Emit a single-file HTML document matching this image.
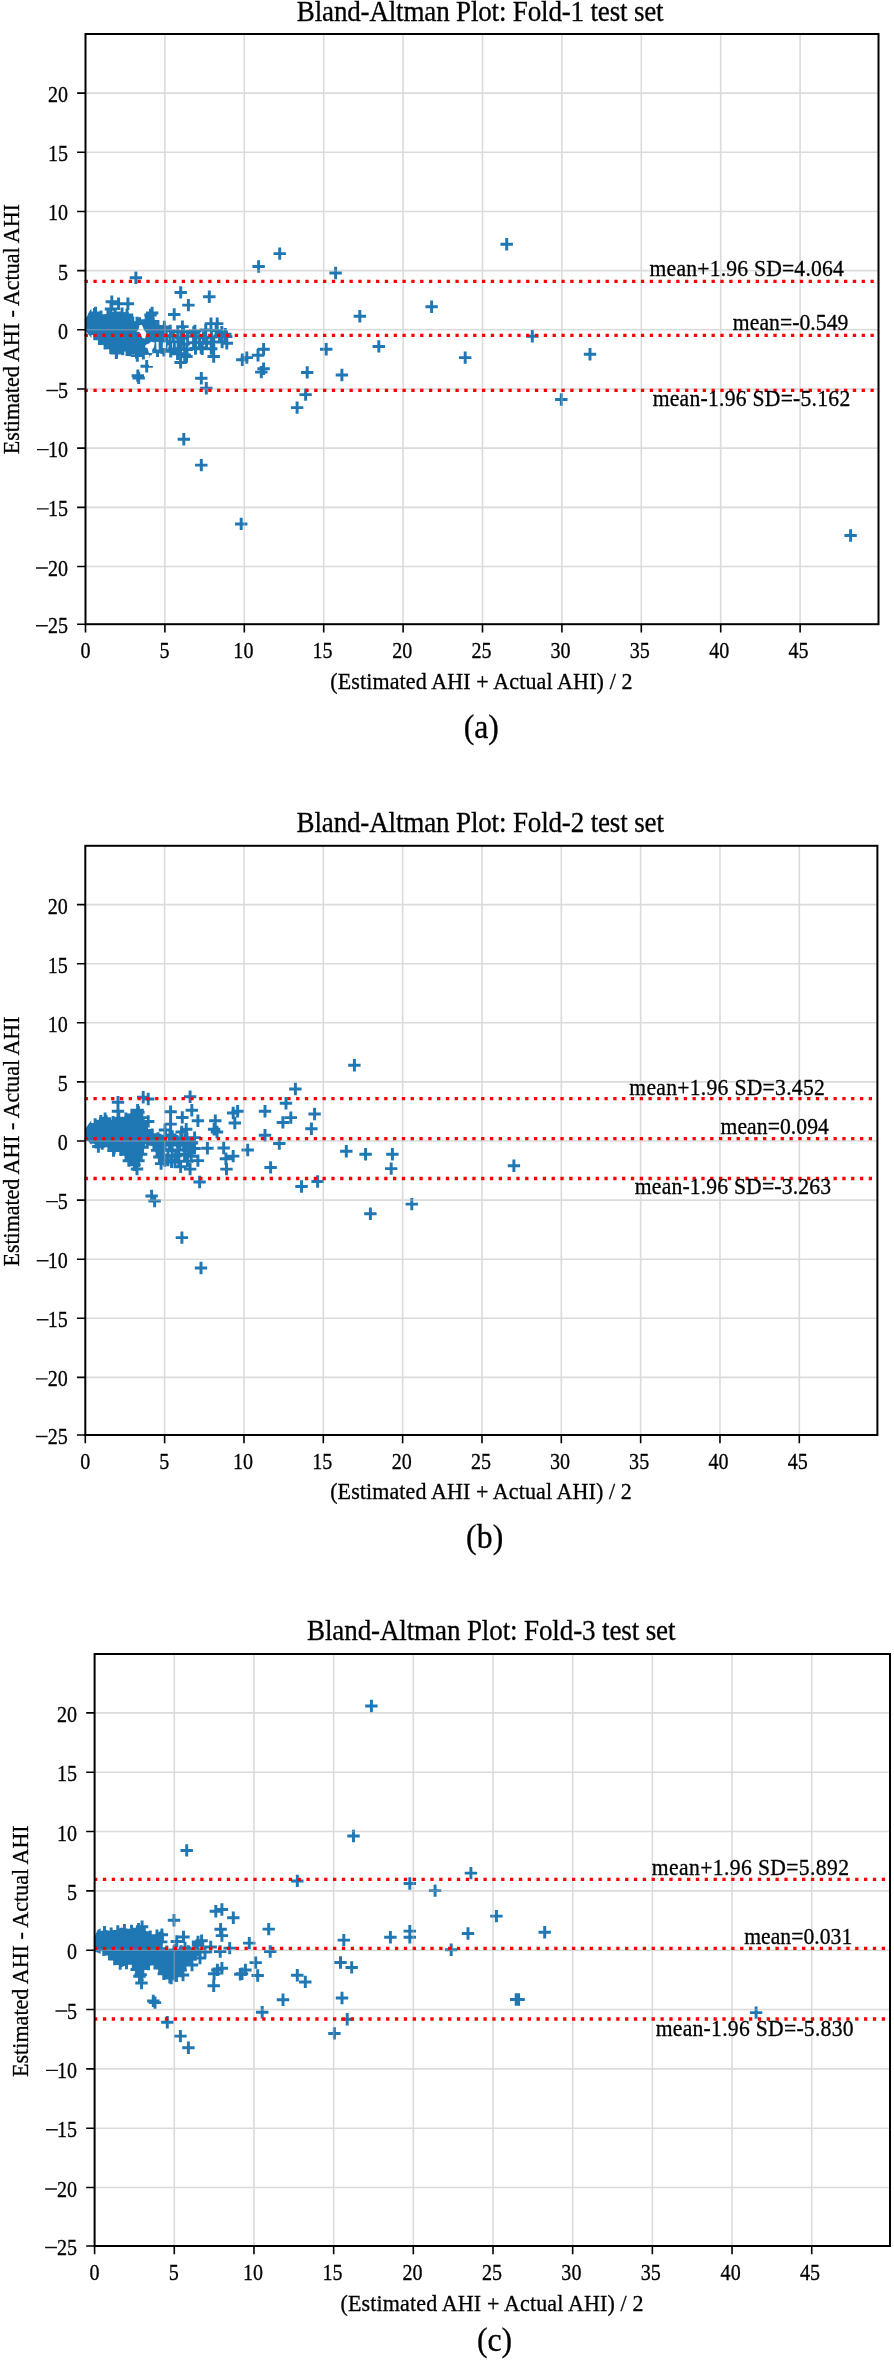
<!DOCTYPE html><html><head><meta charset="utf-8"><title>Bland-Altman plots</title><style>html,body{margin:0;padding:0;background:#fff;overflow:hidden;}svg{display:block;}text{font-family:"Liberation Serif",serif;fill:#000;stroke:#000;stroke-width:0.3px;}svg{will-change:transform;}</style></head><body>
<svg width="894" height="2360" viewBox="0 0 894 2360">
<rect width="894" height="2360" fill="#fff"/>
<g>
<polygon points="96.45,339.06 103.28,344.56 112.13,351.54 117.21,354.76 123.81,350.64 132.73,352.9 139.19,356.13 146.91,354.57 156.69,352.61 162.69,354.13 166.74,350.27 168.46,339.96 166.81,328.41 164,327.16 155.4,322.8 153.44,315.09 150.77,312.42 148.42,314.02 144.53,319.75 136.63,322.38 130.99,319.56 125.9,312.74 121.51,311.5 115.44,311.5 109.29,313.06 102.63,315.28 95.44,311.68 92.88,312.56 91.5,315.27 91.5,309.33 90.4,309.7 86.8,316.8 85.5,317 85.5,331 88,333.5 91.5,338.25 91.5,332.35" fill="#1f77b4"/>
<path d="M129.7 277.75h12.4M135.9 271.55v12.4M174.5 292.4h12.4M180.7 286.2v12.4M203.1 296.8h12.4M209.3 290.6v12.4M182.2 305.1h12.4M188.4 298.9v12.4M168 314.4h12.4M174.2 308.2v12.4M252.4 266.5h12.4M258.6 260.3v12.4M273.5 253.6h12.4M279.7 247.4v12.4M329.4 273h12.4M335.6 266.8v12.4M353.6 316.2h12.4M359.8 310v12.4M372.6 346.4h12.4M378.8 340.2v12.4M320 349.3h12.4M326.2 343.1v12.4M301 372.4h12.4M307.2 366.2v12.4M335.7 375h12.4M341.9 368.8v12.4M257.4 349.3h12.4M263.6 343.1v12.4M251.8 355.3h12.4M258 349.1v12.4M240.6 357.6h12.4M246.8 351.4v12.4M236.1 359.8h12.4M242.3 353.6v12.4M257.4 368.8h12.4M263.6 362.6v12.4M255.1 372.1h12.4M261.3 365.9v12.4M500.5 244.3h12.4M506.7 238.1v12.4M425.4 306.8h12.4M431.6 300.6v12.4M526.1 336.3h12.4M532.3 330.1v12.4M459 357.6h12.4M465.2 351.4v12.4M583.8 354.2h12.4M590 348v12.4M555.1 399.5h12.4M561.3 393.3v12.4M844.4 535.5h12.4M850.6 529.3v12.4M299.4 394.6h12.4M305.6 388.4v12.4M290.9 407.6h12.4M297.1 401.4v12.4M235 523.9h12.4M241.2 517.7v12.4M140.5 366.3h12.4M146.7 360.1v12.4M131.6 375.7h12.4M137.8 369.5v12.4M132.5 377.9h12.4M138.7 371.7v12.4M195.1 378.3h12.4M201.3 372.1v12.4M200.1 388.3h12.4M206.3 382.1v12.4M177.6 439.3h12.4M183.8 433.1v12.4M195.1 465.1h12.4M201.3 458.9v12.4M105.6 301.8h12.4M111.8 295.6v12.4M112.4 303.7h12.4M118.6 297.5v12.4M121.7 303.7h12.4M127.9 297.5v12.4M89.4 313h12.4M95.6 306.8v12.4M145.9 313h12.4M152.1 306.8v12.4M130.8 323h12.4M137 316.8v12.4M104.8 309h12.4M111 302.8v12.4M120.8 315h12.4M127 308.8v12.4M158.1 327h12.4M164.3 320.8v12.4M176.2 326.6h12.4M182.4 320.4v12.4M188.7 331h12.4M194.9 324.8v12.4M204.8 323.6h12.4M211 317.4v12.4M211 323.6h12.4M217.2 317.4v12.4M219.1 334.3h12.4M225.3 328.1v12.4M220.6 343.3h12.4M226.8 337.1v12.4M195 347.8h12.4M201.2 341.6v12.4M207.5 356.5h12.4M213.7 350.3v12.4M174.4 362.4h12.4M180.6 356.2v12.4M164.5 351.2h12.4M170.7 345v12.4M110.1 352.9h12.4M116.3 346.7v12.4M131.1 355.6h12.4M137.3 349.4v12.4M120.8 349.8h12.4M127 343.6v12.4M180.3 356.5h12.4M186.5 350.3v12.4M84.8 320.34h12.4M91 314.14v12.4M84.8 327.55h12.4M91 321.35v12.4M88.58 333.42h12.4M94.78 327.22v12.4M93.22 338.88h12.4M99.42 332.68v12.4M98.84 343.4h12.4M105.04 337.2v12.4M104.5 347.87h12.4M110.7 341.67v12.4M110.4 352.01h12.4M116.6 345.81v12.4M116.6 349.15h12.4M122.8 342.95v12.4M123.64 350.11h12.4M129.84 343.91v12.4M130.37 352.59h12.4M136.57 346.39v12.4M137.16 353.25h12.4M143.36 347.05v12.4M144.23 351.82h12.4M150.43 345.62v12.4M151.33 350.78h12.4M157.53 344.58v12.4M157.72 350.2h12.4M163.92 344v12.4M159.64 343.48h12.4M165.84 337.28v12.4M159.72 336.35h12.4M165.92 330.15v12.4M158.25 329.55h12.4M164.45 323.35v12.4M151.79 326.36h12.4M157.99 320.16v12.4M146.82 321.57h12.4M153.02 315.37v12.4M144.31 315.02h12.4M150.51 308.82v12.4M139.97 320.71h12.4M146.17 314.51v12.4M133.39 323.5h12.4M139.59 317.3v12.4M126.55 322.67h12.4M132.75 316.47v12.4M121.19 318.07h12.4M127.39 311.87v12.4M115.88 313.74h12.4M122.08 307.54v12.4M108.72 313.69h12.4M114.92 307.49v12.4M101.77 315.61h12.4M107.97 309.41v12.4M94.81 316.66h12.4M101.01 310.46v12.4M88.3 314.12h12.4M94.5 307.92v12.4M164.07 330.87h12.4M170.27 324.67v12.4M171.61 331.49h12.4M177.81 325.29v12.4M177.45 331.8h12.4M183.65 325.6v12.4M187.5 332.41h12.4M193.7 326.21v12.4M199.56 329.9h12.4M205.76 323.7v12.4M209.87 330.41h12.4M216.07 324.21v12.4M215.65 332.19h12.4M221.85 325.99v12.4M167.11 335.69h12.4M173.31 329.49v12.4M175.05 338.03h12.4M181.25 331.83v12.4M181.27 336.17h12.4M187.47 329.97v12.4M189.54 335.61h12.4M195.74 329.41v12.4M197.29 337.95h12.4M203.49 331.75v12.4M205.27 337.1h12.4M211.47 330.9v12.4M213.37 335.95h12.4M219.57 329.75v12.4M220 336.62h12.4M226.2 330.42v12.4M163.85 341.84h12.4M170.05 335.64v12.4M171.88 341.79h12.4M178.08 335.59v12.4M177.55 343.92h12.4M183.75 337.72v12.4M187.39 342.8h12.4M193.59 336.6v12.4M193.29 342.24h12.4M199.49 336.04v12.4M200.37 343.35h12.4M206.57 337.15v12.4M207.59 341.86h12.4M213.79 335.66v12.4M215.92 341.99h12.4M222.12 335.79v12.4M168.13 348.94h12.4M174.33 342.74v12.4M174.34 348.8h12.4M180.54 342.6v12.4M180.82 349.64h12.4M187.02 343.44v12.4M189.29 348.46h12.4M195.49 342.26v12.4M196.04 348.84h12.4M202.24 342.64v12.4M205.05 348.67h12.4M211.25 342.47v12.4M171.36 353.69h12.4M177.56 347.49v12.4M178.52 354.88h12.4M184.72 348.68v12.4" stroke="#1f77b4" stroke-width="2.95" fill="none"/>
<polygon points="139.5,325 142,325 144,330 146.5,333 145,338.5 142.5,338 139.5,332 136.5,331.5 138.5,329.5" fill="#fff"/>
<polygon points="145.5,345 149,343.5 151,341.8 154.7,342.5 154,347 152,350 152.5,353 149,353 147.5,348 145.2,347.5" fill="#fff"/>
<polygon points="156.2,342 158.5,341.8 158.8,349.6 156.5,349.6" fill="#fff"/>
<polygon points="162.8,342.4 166,342.4 166,348 162.8,348" fill="#fff"/>
<polygon points="149.5,355.5 155.8,355 156,366 149,366" fill="#fff"/>
<path d="M164.9 34V624.2M244.3 34V624.2M323.7 34V624.2M403.1 34V624.2M482.5 34V624.2M561.9 34V624.2M641.3 34V624.2M720.7 34V624.2M800.1 34V624.2M85.5 566.5H878.5M85.5 507.33H878.5M85.5 448.15H878.5M85.5 388.98H878.5M85.5 329.8H878.5M85.5 270.62H878.5M85.5 211.45H878.5M85.5 152.28H878.5M85.5 93.1H878.5" stroke="#b0b0b0" stroke-opacity="0.45" stroke-width="1.6" fill="none"/>
<line x1="84.6" y1="281.3" x2="878.5" y2="281.3" stroke="#ff0000" stroke-width="3.3" stroke-dasharray="3.3 5.53"/>
<line x1="84.6" y1="335.3" x2="878.5" y2="335.3" stroke="#ff0000" stroke-width="3.3" stroke-dasharray="3.3 5.53"/>
<line x1="84.6" y1="390.3" x2="878.5" y2="390.3" stroke="#ff0000" stroke-width="3.3" stroke-dasharray="3.3 5.53"/>
<rect x="85.5" y="34" width="793" height="590.2" fill="none" stroke="#000" stroke-width="2.0"/>
<path d="M85.5 624.2v8.3M164.9 624.2v8.3M244.3 624.2v8.3M323.7 624.2v8.3M403.1 624.2v8.3M482.5 624.2v8.3M561.9 624.2v8.3M641.3 624.2v8.3M720.7 624.2v8.3M800.1 624.2v8.3M85.5 624.2h-8.4M85.5 566.5h-8.4M85.5 507.33h-8.4M85.5 448.15h-8.4M85.5 388.98h-8.4M85.5 329.8h-8.4M85.5 270.62h-8.4M85.5 211.45h-8.4M85.5 152.28h-8.4M85.5 93.1h-8.4" stroke="#000" stroke-width="1.6" fill="none"/>
<text transform="translate(80.48 658.2) scale(0.88 1)" font-size="22.8" letter-spacing="-0.000">0</text>
<text transform="translate(159.48 658.2) scale(0.88 1)" font-size="22.8" letter-spacing="0.000">5</text>
<text transform="translate(233.37 658.2) scale(0.88 1)" font-size="22.8" letter-spacing="-0.000">10</text>
<text transform="translate(312.57 658.2) scale(0.88 1)" font-size="22.8" letter-spacing="0.000">15</text>
<text transform="translate(392.22 658.2) scale(0.88 1)" font-size="22.8" letter-spacing="0.000">20</text>
<text transform="translate(471.42 658.2) scale(0.88 1)" font-size="22.8" letter-spacing="0.000">25</text>
<text transform="translate(550.57 658.2) scale(0.88 1)" font-size="22.8" letter-spacing="-0.000">30</text>
<text transform="translate(629.77 658.2) scale(0.88 1)" font-size="22.8" letter-spacing="-0.000">35</text>
<text transform="translate(709.27 658.2) scale(0.88 1)" font-size="22.8" letter-spacing="-0.000">40</text>
<text transform="translate(788.47 658.2) scale(0.88 1)" font-size="22.8" letter-spacing="-0.000">45</text>
<text transform="translate(47.89 633.2) scale(0.88 1)" font-size="22.8" letter-spacing="0.000">25</text>
<text transform="translate(47.89 575.5) scale(0.88 1)" font-size="22.8" letter-spacing="0.000">20</text>
<text transform="translate(47.89 516.33) scale(0.88 1)" font-size="22.8" letter-spacing="-0.000">15</text>
<text transform="translate(47.89 457.15) scale(0.88 1)" font-size="22.8" letter-spacing="-0.000">10</text>
<text transform="translate(57.92 397.98) scale(0.88 1)" font-size="22.8" letter-spacing="-0.000">5</text>
<text transform="translate(57.92 338.8) scale(0.88 1)" font-size="22.8" letter-spacing="0.000">0</text>
<text transform="translate(57.92 279.62) scale(0.88 1)" font-size="22.8" letter-spacing="-0.000">5</text>
<text transform="translate(47.89 220.45) scale(0.88 1)" font-size="22.8" letter-spacing="-0.000">10</text>
<text transform="translate(47.89 161.28) scale(0.88 1)" font-size="22.8" letter-spacing="-0.000">15</text>
<text transform="translate(47.89 102.1) scale(0.88 1)" font-size="22.8" letter-spacing="0.000">20</text>
<path d="M36.04 625.7h11.8M36.04 568h11.8M36.94 508.83h11.8M36.94 449.65h11.8M46.37 390.48h11.8" stroke="#111" stroke-width="1.4" fill="none"/>
<text transform="translate(296.86 20.5) scale(0.95 1)" font-size="28.5" letter-spacing="-0.193">Bland-Altman Plot: Fold-1 test set</text>
<text transform="translate(330.26 688.5) scale(0.95 1)" font-size="23.2" letter-spacing="0.123">(Estimated AHI + Actual AHI) / 2</text>
<text transform="translate(19.1 453.6) rotate(-90) scale(0.95 1) translate(-0.64 0)" font-size="23.2" letter-spacing="-0.028">Estimated AHI - Actual AHI</text>
<text transform="translate(649.57 275.8) scale(0.95 1)" font-size="22.8" letter-spacing="0.208">mean+1.96 SD=4.064</text>
<text transform="translate(732.87 330) scale(0.95 1)" font-size="22.8" letter-spacing="0.056">mean=-0.549</text>
<text transform="translate(652.67 405.8) scale(0.95 1)" font-size="22.8" letter-spacing="0.258">mean-1.96 SD=-5.162</text>
<text transform="translate(463.65 737.7) scale(0.95 1)" font-size="33.5" letter-spacing="-0.063">(a)</text>
</g>
<g>
<polygon points="95.8,1145.17 97.28,1146.86 98.85,1144.77 108.94,1147.66 111.06,1151.89 111.5,1152.21 114.74,1149.06 123.59,1153.48 126.5,1161.16 130.08,1164.73 135.54,1167.51 136.49,1168.67 137.94,1166.3 142.66,1156.85 145.35,1143.43 153.86,1146.26 156.31,1154.86 159.58,1162.93 160.67,1164.02 160.75,1163.9 163.46,1159.14 162.52,1135.63 162.21,1134.67 157.95,1137.5 152.57,1132.12 146.42,1128.02 143.52,1118.6 143.28,1113.26 138.47,1109.45 138.29,1109.34 137.58,1110.76 131.27,1112.87 125.48,1116.8 115.5,1116.8 114.13,1120.78 104.55,1119.04 103.95,1116.62 102.96,1117.2 101.31,1117.2 99.51,1120.3 95.75,1120.3 94.1,1122.5 91.44,1126.04 91.3,1126.25 91.3,1120.4 88.6,1124 85.5,1128.5 85.5,1139.8 88.6,1141.6 91.3,1145.08 91.3,1139.37" fill="#1f77b4"/>
<path d="M111.8 1102.3h12.4M118 1096.1v12.4M111.8 1111.3h12.4M118 1105.1v12.4M137 1097.3h12.4M143.2 1091.1v12.4M142 1099h12.4M148.2 1092.8v12.4M131.4 1110.2h12.4M137.6 1104v12.4M142 1121.4h12.4M148.2 1115.2v12.4M164.4 1111.8h12.4M170.6 1105.6v12.4M164.4 1124.1h12.4M170.6 1117.9v12.4M176.1 1117.4h12.4M182.3 1111.2v12.4M92.2 1146.5h12.4M98.4 1140.3v12.4M145.4 1195.9h12.4M151.6 1189.7v12.4M148.4 1201h12.4M154.6 1194.8v12.4M183.9 1096.7h12.4M190.1 1090.5v12.4M185.6 1110.2h12.4M191.8 1104v12.4M191.7 1120.8h12.4M197.9 1114.6v12.4M209.1 1120.8h12.4M215.3 1114.6v12.4M207.9 1129.2h12.4M214.1 1123v12.4M210.8 1132h12.4M217 1125.8v12.4M227 1113h12.4M233.2 1106.8v12.4M231.4 1111.3h12.4M237.6 1105.1v12.4M228.6 1123h12.4M234.8 1116.8v12.4M258.8 1111.3h12.4M265 1105.1v12.4M258.8 1135.3h12.4M265 1129.1v12.4M180 1129.2h12.4M186.2 1123v12.4M175.5 1132h12.4M181.7 1125.8v12.4M188.4 1137.6h12.4M194.6 1131.4v12.4M201.2 1148.3h12.4M207.4 1142.1v12.4M217.5 1148h12.4M223.7 1141.8v12.4M227 1156.1h12.4M233.2 1149.9v12.4M219.7 1158.8h12.4M225.9 1152.6v12.4M220.3 1169.1h12.4M226.5 1162.9v12.4M241.5 1150h12.4M247.7 1143.8v12.4M191.7 1160.6h12.4M197.9 1154.4v12.4M182.2 1147.6h12.4M188.4 1141.4v12.4M264.4 1167.4h12.4M270.6 1161.2v12.4M193.4 1182h12.4M199.6 1175.8v12.4M183.9 1169.1h12.4M190.1 1162.9v12.4M174.4 1166.8h12.4M180.6 1160.6v12.4M188.4 1148.4h12.4M194.6 1142.2v12.4M289.2 1089h12.4M295.4 1082.8v12.4M279.8 1103.3h12.4M286 1097.1v12.4M284.6 1117.6h12.4M290.8 1111.4v12.4M276.7 1122.4h12.4M282.9 1116.2v12.4M308.4 1114h12.4M314.6 1107.8v12.4M305.2 1128.7h12.4M311.4 1122.5v12.4M273.1 1143.5h12.4M279.3 1137.3v12.4M295.3 1186.5h12.4M301.5 1180.3v12.4M311.4 1181.5h12.4M317.6 1175.3v12.4M340.1 1151.2h12.4M346.3 1145v12.4M359.4 1154.3h12.4M365.6 1148.1v12.4M386.2 1154.3h12.4M392.4 1148.1v12.4M385 1168.6h12.4M391.2 1162.4v12.4M405.6 1204.1h12.4M411.8 1197.9v12.4M507.7 1165.8h12.4M513.9 1159.6v12.4M348.2 1065.2h12.4M354.4 1059v12.4M175.7 1237.6h12.4M181.9 1231.4v12.4M194.8 1268h12.4M201 1261.8v12.4M364.2 1213.8h12.4M370.4 1207.6v12.4M98.9 1118.6h12.4M105.1 1112.4v12.4M154.9 1163.6h12.4M161.1 1157.4v12.4M130.8 1169h12.4M137 1162.8v12.4M107.3 1150.6h12.4M113.5 1144.4v12.4M158.8 1130h12.4M165 1123.8v12.4M163.8 1135h12.4M170 1128.8v12.4M168.8 1140h12.4M175 1133.8v12.4M173.8 1145h12.4M180 1138.8v12.4M158.8 1145h12.4M165 1138.8v12.4M165.8 1150h12.4M172 1143.8v12.4M178.8 1140h12.4M185 1133.8v12.4M171.8 1155h12.4M178 1148.8v12.4M161.8 1160h12.4M168 1153.8v12.4M178.8 1155h12.4M185 1148.8v12.4M185.8 1143h12.4M192 1136.8v12.4M153.8 1140h12.4M160 1133.8v12.4M168.8 1162h12.4M175 1155.8v12.4M155.8 1155h12.4M162 1148.8v12.4M84.8 1130.21h12.4M91 1124.01v12.4M85.36 1136.97h12.4M91.56 1130.77v12.4M89.93 1142.34h12.4M96.13 1136.14v12.4M96.02 1143.66h12.4M102.22 1137.46v12.4M102.8 1145.7h12.4M109 1139.5v12.4M107.94 1147.95h12.4M114.14 1141.75v12.4M114.57 1149.84h12.4M120.77 1143.64v12.4M119.82 1154.24h12.4M126.02 1148.04v12.4M122.64 1160.66h12.4M128.84 1154.46v12.4M128.32 1164.75h12.4M134.52 1158.55v12.4M132.26 1160.78h12.4M138.46 1154.58v12.4M134.94 1154.27h12.4M141.14 1148.07v12.4M136.32 1147.33h12.4M142.52 1141.13v12.4M140.92 1142.58h12.4M147.12 1136.38v12.4M147.68 1144.32h12.4M153.88 1138.12v12.4M150.91 1150.38h12.4M157.11 1144.18v12.4M153.17 1157.08h12.4M159.37 1150.88v12.4M155.16 1156.56h12.4M161.36 1150.36v12.4M154.87 1149.48h12.4M161.07 1143.28v12.4M154.59 1142.41h12.4M160.79 1136.21v12.4M151.79 1138.48h12.4M157.99 1132.28v12.4M146.06 1134.64h12.4M152.26 1128.44v12.4M140.34 1130.51h12.4M146.54 1124.31v12.4M137.04 1124.47h12.4M143.24 1118.27v12.4M135.28 1117.64h12.4M141.48 1111.44v12.4M132.22 1112.28h12.4M138.42 1106.08v12.4M125.67 1114.87h12.4M131.87 1108.67v12.4M119.68 1118.59h12.4M125.88 1112.39v12.4M112.62 1118.8h12.4M118.82 1112.6v12.4M106.99 1122.11h12.4M113.19 1115.91v12.4M100.01 1121.36h12.4M106.21 1115.16v12.4M94.67 1121.14h12.4M100.87 1114.94v12.4M88.93 1124.46h12.4M95.13 1118.26v12.4M159.29 1136.26h12.4M165.49 1130.06v12.4M166.05 1136.45h12.4M172.25 1130.25v12.4M174.59 1138.34h12.4M180.79 1132.14v12.4M180.75 1138.5h12.4M186.95 1132.3v12.4M155.93 1141.95h12.4M162.13 1135.75v12.4M162.92 1143.18h12.4M169.12 1136.98v12.4M171.17 1142.13h12.4M177.37 1135.93v12.4M177.42 1144.15h12.4M183.62 1137.95v12.4M185.22 1142.43h12.4M191.42 1136.23v12.4M157.3 1150.32h12.4M163.5 1144.12v12.4M165.97 1150.49h12.4M172.17 1144.29v12.4M172.47 1149.94h12.4M178.67 1143.74v12.4M181.99 1150.26h12.4M188.19 1144.06v12.4M187.1 1148.62h12.4M193.3 1142.42v12.4M161.86 1156.38h12.4M168.06 1150.18v12.4M169.42 1155.82h12.4M175.62 1149.62v12.4M178.4 1154.22h12.4M184.6 1148.02v12.4M184.97 1156.37h12.4M191.17 1150.17v12.4M158.63 1160.58h12.4M164.83 1154.38v12.4M165.35 1161.86h12.4M171.55 1155.66v12.4M172.63 1161.31h12.4M178.83 1155.11v12.4M181.22 1161.16h12.4M187.42 1154.96v12.4" stroke="#1f77b4" stroke-width="2.95" fill="none"/>
<path d="M164.63 845.8V1435M243.97 845.8V1435M323.31 845.8V1435M402.64 845.8V1435M481.98 845.8V1435M561.31 845.8V1435M640.64 845.8V1435M719.98 845.8V1435M799.31 845.8V1435M85.3 1377.4H877.4M85.3 1318.3H877.4M85.3 1259.2H877.4M85.3 1200.1H877.4M85.3 1141H877.4M85.3 1081.9H877.4M85.3 1022.8H877.4M85.3 963.7H877.4M85.3 904.6H877.4" stroke="#b0b0b0" stroke-opacity="0.45" stroke-width="1.6" fill="none"/>
<line x1="84.65" y1="1098.7" x2="877.4" y2="1098.7" stroke="#ff0000" stroke-width="3.3" stroke-dasharray="3.3 5.51"/>
<line x1="84.65" y1="1138.7" x2="877.4" y2="1138.7" stroke="#ff0000" stroke-width="3.3" stroke-dasharray="3.3 5.51"/>
<line x1="84.65" y1="1178.5" x2="877.4" y2="1178.5" stroke="#ff0000" stroke-width="3.3" stroke-dasharray="3.3 5.51"/>
<rect x="85.3" y="845.8" width="792.1" height="589.2" fill="none" stroke="#000" stroke-width="2.0"/>
<path d="M85.3 1435v8.3M164.63 1435v8.3M243.97 1435v8.3M323.31 1435v8.3M402.64 1435v8.3M481.98 1435v8.3M561.31 1435v8.3M640.64 1435v8.3M719.98 1435v8.3M799.31 1435v8.3M85.3 1435h-8.4M85.3 1377.4h-8.4M85.3 1318.3h-8.4M85.3 1259.2h-8.4M85.3 1200.1h-8.4M85.3 1141h-8.4M85.3 1081.9h-8.4M85.3 1022.8h-8.4M85.3 963.7h-8.4M85.3 904.6h-8.4" stroke="#000" stroke-width="1.6" fill="none"/>
<text transform="translate(80.28 1469) scale(0.88 1)" font-size="22.8" letter-spacing="-0.000">0</text>
<text transform="translate(159.22 1469) scale(0.88 1)" font-size="22.8" letter-spacing="0.000">5</text>
<text transform="translate(233.04 1469) scale(0.88 1)" font-size="22.8" letter-spacing="-0.000">10</text>
<text transform="translate(312.17 1469) scale(0.88 1)" font-size="22.8" letter-spacing="0.000">15</text>
<text transform="translate(391.76 1469) scale(0.88 1)" font-size="22.8" letter-spacing="0.000">20</text>
<text transform="translate(470.89 1469) scale(0.88 1)" font-size="22.8" letter-spacing="0.000">25</text>
<text transform="translate(549.98 1469) scale(0.88 1)" font-size="22.8" letter-spacing="-0.000">30</text>
<text transform="translate(629.11 1469) scale(0.88 1)" font-size="22.8" letter-spacing="-0.000">35</text>
<text transform="translate(708.55 1469) scale(0.88 1)" font-size="22.8" letter-spacing="-0.000">40</text>
<text transform="translate(787.68 1469) scale(0.88 1)" font-size="22.8" letter-spacing="-0.000">45</text>
<text transform="translate(47.69 1444) scale(0.88 1)" font-size="22.8" letter-spacing="0.000">25</text>
<text transform="translate(47.69 1386.4) scale(0.88 1)" font-size="22.8" letter-spacing="0.000">20</text>
<text transform="translate(47.69 1327.3) scale(0.88 1)" font-size="22.8" letter-spacing="-0.000">15</text>
<text transform="translate(47.69 1268.2) scale(0.88 1)" font-size="22.8" letter-spacing="-0.000">10</text>
<text transform="translate(57.72 1209.1) scale(0.88 1)" font-size="22.8" letter-spacing="-0.000">5</text>
<text transform="translate(57.72 1150) scale(0.88 1)" font-size="22.8" letter-spacing="0.000">0</text>
<text transform="translate(57.72 1090.9) scale(0.88 1)" font-size="22.8" letter-spacing="-0.000">5</text>
<text transform="translate(47.69 1031.8) scale(0.88 1)" font-size="22.8" letter-spacing="-0.000">10</text>
<text transform="translate(47.69 972.7) scale(0.88 1)" font-size="22.8" letter-spacing="-0.000">15</text>
<text transform="translate(47.69 913.6) scale(0.88 1)" font-size="22.8" letter-spacing="0.000">20</text>
<path d="M35.84 1436.5h11.8M35.84 1378.9h11.8M36.74 1319.8h11.8M36.74 1260.7h11.8M46.17 1201.6h11.8" stroke="#111" stroke-width="1.4" fill="none"/>
<text transform="translate(296.56 831.8) scale(0.95 1)" font-size="28.5" letter-spacing="-0.174">Bland-Altman Plot: Fold-2 test set</text>
<text transform="translate(330.16 1499.2) scale(0.95 1)" font-size="23.2" letter-spacing="0.103">(Estimated AHI + Actual AHI) / 2</text>
<text transform="translate(18.8 1265.9) rotate(-90) scale(0.95 1) translate(-0.64 0)" font-size="23.2" letter-spacing="-0.032">Estimated AHI - Actual AHI</text>
<text transform="translate(629.37 1095.1) scale(0.95 1)" font-size="22.8" letter-spacing="0.280">mean+1.96 SD=3.452</text>
<text transform="translate(720.47 1133.5) scale(0.95 1)" font-size="22.8" letter-spacing="0.081">mean=0.094</text>
<text transform="translate(634.87 1194.3) scale(0.95 1)" font-size="22.8" letter-spacing="0.177">mean-1.96 SD=-3.263</text>
<text transform="translate(465.95 1547.7) scale(0.95 1)" font-size="33.5" letter-spacing="0.121">(b)</text>
</g>
<g>
<polygon points="101.11,1950.2 108.79,1956.05 114.23,1961.38 121.41,1967.19 131.67,1963.08 138.15,1978.2 142.32,1982.37 143.9,1980.83 142.04,1971.54 153.99,1962.45 161.05,1974.21 167.12,1978.77 172.31,1980.01 177.7,1977.42 182.43,1970.99 186.18,1965.37 191.9,1959.65 198.82,1954.46 202.13,1949.5 172.75,1949.5 160.7,1949.84 163.9,1940.23 163.9,1933.11 161.41,1930.25 153.04,1936.02 145.59,1931.1 140.47,1926.71 129.86,1929.18 121.3,1927.47 112.11,1932.12 105.08,1929.48 100.6,1932.26 100.6,1928.14 97.6,1930 94.6,1936.3 94.6,1951.5 99.4,1953.3 100.6,1954.21 100.6,1950.01" fill="#1f77b4"/>
<path d="M365.2 1706h12.4M371.4 1699.8v12.4M347.3 1836h12.4M353.5 1829.8v12.4M180.5 1850.4h12.4M186.7 1844.2v12.4M291.1 1880.9h12.4M297.3 1874.7v12.4M209.6 1911.2h12.4M215.8 1905v12.4M215.7 1909.5h12.4M221.9 1903.3v12.4M227.1 1917.7h12.4M233.3 1911.5v12.4M167.8 1920.2h12.4M174 1914v12.4M177.3 1936.9h12.4M183.5 1930.7v12.4M170.6 1941.4h12.4M176.8 1935.2v12.4M135.9 1926.8h12.4M142.1 1920.6v12.4M214.4 1929.3h12.4M220.6 1923.1v12.4M215.7 1935.6h12.4M221.9 1929.4v12.4M195.4 1940.8h12.4M201.6 1934.6v12.4M191.8 1942h12.4M198 1935.8v12.4M243.1 1943.1h12.4M249.3 1936.9v12.4M262.5 1929.1h12.4M268.7 1922.9v12.4M264 1951.5h12.4M270.2 1945.3v12.4M249.5 1962.6h12.4M255.7 1956.4v12.4M251.5 1975.5h12.4M257.7 1969.3v12.4M239.2 1969.9h12.4M245.4 1963.7v12.4M235.8 1973.8h12.4M242 1967.6v12.4M234.1 1974.3h12.4M240.3 1968.1v12.4M211.2 1969.9h12.4M217.4 1963.7v12.4M215.7 1968.2h12.4M221.9 1962v12.4M207.9 1973.8h12.4M214.1 1967.6v12.4M207.5 1985.7h12.4M213.7 1979.5v12.4M223.5 1948.1h12.4M229.7 1941.9v12.4M204.5 1947h12.4M210.7 1940.8v12.4M214 1951.5h12.4M220.2 1945.3v12.4M403.6 1883.5h12.4M409.8 1877.3v12.4M428.9 1890.6h12.4M435.1 1884.4v12.4M464.7 1873.1h12.4M470.9 1866.9v12.4M337.6 1940.1h12.4M343.8 1933.9v12.4M384.2 1937.2h12.4M390.4 1931v12.4M403.6 1931.1h12.4M409.8 1924.9v12.4M403.6 1937.2h12.4M409.8 1931v12.4M445 1949.8h12.4M451.2 1943.6v12.4M334.3 1962.5h12.4M340.5 1956.3v12.4M345.5 1967.4h12.4M351.7 1961.2v12.4M299.1 1981.9h12.4M305.3 1975.7v12.4M276.8 1999.8h12.4M283 1993.6v12.4M335.8 1998h12.4M342 1991.8v12.4M341 2019.3h12.4M347.2 2013.1v12.4M328.2 2033.4h12.4M334.4 2027.2v12.4M490.2 1916.1h12.4M496.4 1909.9v12.4M461.8 1933.5h12.4M468 1927.3v12.4M538.5 1932.2h12.4M544.7 1926v12.4M510 1999.5h12.4M516.2 1993.3v12.4M512.4 1999.5h12.4M518.6 1993.3v12.4M749.9 2012.6h12.4M756.1 2006.4v12.4M147.1 2000.9h12.4M153.3 1994.7v12.4M148.8 2002.6h12.4M155 1996.4v12.4M161.1 2022.2h12.4M167.3 2016v12.4M174.2 2036.1h12.4M180.4 2029.9v12.4M182.2 2047.8h12.4M188.4 2041.6v12.4M256 2012.3h12.4M262.2 2006.1v12.4M291.1 1975.2h12.4M297.3 1969v12.4M135.3 1983h12.4M141.5 1976.8v12.4M165 1978h12.4M171.2 1971.8v12.4M168.8 1950h12.4M175 1943.8v12.4M173.8 1955h12.4M180 1948.8v12.4M178.8 1948h12.4M185 1941.8v12.4M183.8 1955h12.4M190 1948.8v12.4M188.8 1950h12.4M195 1943.8v12.4M193.8 1958h12.4M200 1951.8v12.4M178.8 1962h12.4M185 1955.8v12.4M171.8 1968h12.4M178 1961.8v12.4M185.8 1965h12.4M192 1958.8v12.4M168.8 1975h12.4M175 1968.8v12.4M176.8 1975h12.4M183 1968.8v12.4M165.8 1960h12.4M172 1953.8v12.4M191.8 1945h12.4M198 1938.8v12.4M198.8 1952h12.4M205 1945.8v12.4M93.9 1937.54h12.4M100.1 1931.34v12.4M93.9 1944.72h12.4M100.1 1938.52v12.4M97.56 1949.7h12.4M103.76 1943.5v12.4M103.27 1954.05h12.4M109.47 1947.85v12.4M108.46 1959h12.4M114.66 1952.8v12.4M113.96 1963.61h12.4M120.16 1957.41v12.4M120.31 1962.99h12.4M126.51 1956.79v12.4M127.07 1963.33h12.4M133.27 1957.13v12.4M130.43 1969.58h12.4M136.63 1963.38v12.4M133.26 1976.18h12.4M139.46 1969.98v12.4M134.44 1974.73h12.4M140.64 1968.53v12.4M136.66 1968.4h12.4M142.86 1962.2v12.4M142.37 1964.06h12.4M148.57 1957.86v12.4M148.96 1962.55h12.4M155.16 1956.35v12.4M153.44 1967.98h12.4M159.64 1961.78v12.4M157.56 1973.74h12.4M163.76 1967.54v12.4M163.63 1977.36h12.4M169.83 1971.16v12.4M170.24 1975.76h12.4M176.44 1969.56v12.4M174.49 1969.98h12.4M180.69 1963.78v12.4M178.51 1964.04h12.4M184.71 1957.84v12.4M183.57 1958.95h12.4M189.77 1952.75v12.4M189.21 1954.52h12.4M195.41 1948.32v12.4M189.31 1951.5h12.4M195.51 1945.3v12.4M182.14 1951.5h12.4M188.34 1945.3v12.4M174.96 1951.5h12.4M181.16 1945.3v12.4M167.78 1951.5h12.4M173.98 1945.3v12.4M160.61 1951.67h12.4M166.81 1945.47v12.4M154.54 1948.76h12.4M160.74 1942.56v12.4M155.05 1941.86h12.4M161.25 1935.66v12.4M155.7 1934.78h12.4M161.9 1928.58v12.4M150.76 1935.75h12.4M156.96 1929.55v12.4M144.09 1936.58h12.4M150.29 1930.38v12.4M138.1 1932.61h12.4M144.3 1926.41v12.4M132.34 1929.21h12.4M138.54 1923.01v12.4M125.34 1930.84h12.4M131.54 1924.64v12.4M118.28 1930.15h12.4M124.48 1923.95v12.4M111.62 1931.47h12.4M117.82 1925.27v12.4M104.95 1933.74h12.4M111.15 1927.54v12.4M98.27 1932.21h12.4M104.47 1926.01v12.4" stroke="#1f77b4" stroke-width="2.95" fill="none"/>
<path d="M174.28 1654V2246M253.96 1654V2246M333.64 1654V2246M413.32 1654V2246M493 1654V2246M572.68 1654V2246M652.36 1654V2246M732.04 1654V2246M811.72 1654V2246M94.6 2187.56H890M94.6 2128.22H890M94.6 2068.88H890M94.6 2009.54H890M94.6 1950.2H890M94.6 1890.86H890M94.6 1831.52H890M94.6 1772.18H890M94.6 1712.84H890" stroke="#b0b0b0" stroke-opacity="0.45" stroke-width="1.6" fill="none"/>
<line x1="94.05" y1="1879.4" x2="890" y2="1879.4" stroke="#ff0000" stroke-width="3.3" stroke-dasharray="3.3 5.55"/>
<line x1="94.05" y1="1948.3" x2="890" y2="1948.3" stroke="#ff0000" stroke-width="3.3" stroke-dasharray="3.3 5.55"/>
<line x1="94.05" y1="2019" x2="890" y2="2019" stroke="#ff0000" stroke-width="3.3" stroke-dasharray="3.3 5.55"/>
<rect x="94.6" y="1654" width="795.4" height="592" fill="none" stroke="#000" stroke-width="2.0"/>
<path d="M94.6 2246v8.3M174.28 2246v8.3M253.96 2246v8.3M333.64 2246v8.3M413.32 2246v8.3M493 2246v8.3M572.68 2246v8.3M652.36 2246v8.3M732.04 2246v8.3M811.72 2246v8.3M94.6 2246h-8.4M94.6 2187.56h-8.4M94.6 2128.22h-8.4M94.6 2068.88h-8.4M94.6 2009.54h-8.4M94.6 1950.2h-8.4M94.6 1890.86h-8.4M94.6 1831.52h-8.4M94.6 1772.18h-8.4M94.6 1712.84h-8.4" stroke="#000" stroke-width="1.6" fill="none"/>
<text transform="translate(89.58 2280) scale(0.88 1)" font-size="22.8" letter-spacing="-0.000">0</text>
<text transform="translate(168.86 2280) scale(0.88 1)" font-size="22.8" letter-spacing="0.000">5</text>
<text transform="translate(243.03 2280) scale(0.88 1)" font-size="22.8" letter-spacing="0.000">10</text>
<text transform="translate(322.51 2280) scale(0.88 1)" font-size="22.8" letter-spacing="0.000">15</text>
<text transform="translate(402.44 2280) scale(0.88 1)" font-size="22.8" letter-spacing="0.000">20</text>
<text transform="translate(481.92 2280) scale(0.88 1)" font-size="22.8" letter-spacing="0.000">25</text>
<text transform="translate(561.35 2280) scale(0.88 1)" font-size="22.8" letter-spacing="-0.000">30</text>
<text transform="translate(640.83 2280) scale(0.88 1)" font-size="22.8" letter-spacing="-0.000">35</text>
<text transform="translate(720.61 2280) scale(0.88 1)" font-size="22.8" letter-spacing="-0.000">40</text>
<text transform="translate(800.09 2280) scale(0.88 1)" font-size="22.8" letter-spacing="-0.000">45</text>
<text transform="translate(56.99 2255) scale(0.88 1)" font-size="22.8" letter-spacing="0.000">25</text>
<text transform="translate(56.99 2196.56) scale(0.88 1)" font-size="22.8" letter-spacing="0.000">20</text>
<text transform="translate(56.99 2137.22) scale(0.88 1)" font-size="22.8" letter-spacing="-0.000">15</text>
<text transform="translate(56.99 2077.88) scale(0.88 1)" font-size="22.8" letter-spacing="-0.000">10</text>
<text transform="translate(67.02 2018.54) scale(0.88 1)" font-size="22.8" letter-spacing="0.000">5</text>
<text transform="translate(67.02 1959.2) scale(0.88 1)" font-size="22.8" letter-spacing="0.000">0</text>
<text transform="translate(67.02 1899.86) scale(0.88 1)" font-size="22.8" letter-spacing="0.000">5</text>
<text transform="translate(56.99 1840.52) scale(0.88 1)" font-size="22.8" letter-spacing="-0.000">10</text>
<text transform="translate(56.99 1781.18) scale(0.88 1)" font-size="22.8" letter-spacing="-0.000">15</text>
<text transform="translate(56.99 1721.84) scale(0.88 1)" font-size="22.8" letter-spacing="0.000">20</text>
<path d="M45.14 2247.5h11.8M45.14 2189.06h11.8M46.04 2129.72h11.8M46.04 2070.38h11.8M55.47 2011.04h11.8" stroke="#111" stroke-width="1.4" fill="none"/>
<text transform="translate(307.06 1639.5) scale(0.95 1)" font-size="28.5" letter-spacing="-0.139">Bland-Altman Plot: Fold-3 test set</text>
<text transform="translate(340.46 2310.5) scale(0.95 1)" font-size="23.2" letter-spacing="0.150">(Estimated AHI + Actual AHI) / 2</text>
<text transform="translate(27.5 2076.4) rotate(-90) scale(0.95 1) translate(-0.64 0)" font-size="23.2" letter-spacing="0.040">Estimated AHI - Actual AHI</text>
<text transform="translate(651.87 1874.7) scale(0.95 1)" font-size="22.8" letter-spacing="0.386">mean+1.96 SD=5.892</text>
<text transform="translate(744.17 1944.1) scale(0.95 1)" font-size="22.8" letter-spacing="0.043">mean=0.031</text>
<text transform="translate(655.67 2035.8) scale(0.95 1)" font-size="22.8" letter-spacing="0.282">mean-1.96 SD=-5.830</text>
<text transform="translate(477.05 2351.2) scale(0.95 1)" font-size="33.5" letter-spacing="-0.169">(c)</text>
</g>
</svg></body></html>
